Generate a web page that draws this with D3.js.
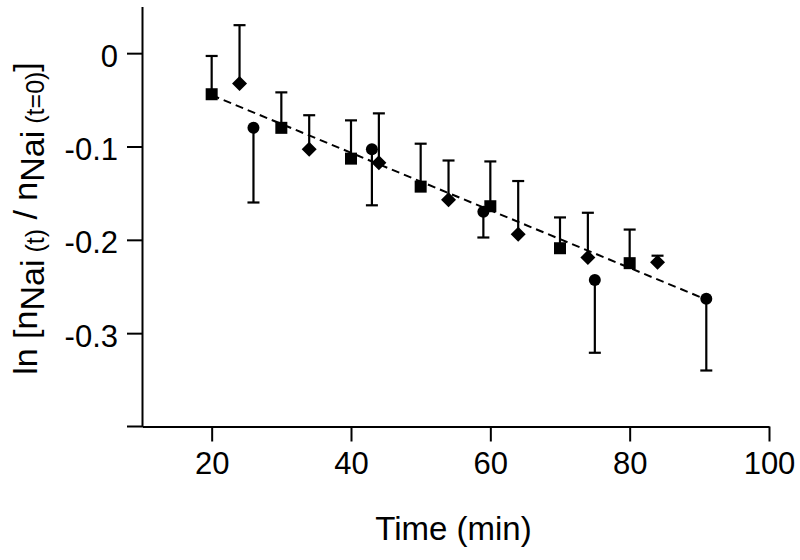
<!DOCTYPE html>
<html>
<head>
<meta charset="utf-8">
<script src="https://cdn.jsdelivr.net/npm/d3@7"></script>
<style>
  html, body { margin: 0; padding: 0; background: #fff; }
  svg { display: block; font-family: "Liberation Sans", Arial, sans-serif; }
</style>
</head>
<body>
<svg id="chart" width="800" height="560"></svg>
<script>
// ---- data ----
const squareX = [20, 30, 40, 50, 60, 70, 80];
const squareY = [-0.044, -0.080, -0.113, -0.143, -0.164, -0.209, -0.225];
const squareErrUp = [0.041, 0.038, 0.041, 0.046, 0.048, 0.033, 0.036];

const diamondX = [24, 34, 44, 54, 64, 74, 84];
const diamondY = [-0.0325, -0.103, -0.1175, -0.157, -0.194, -0.219, -0.224];
const diamondErrUp = [0.0625, 0.0365, 0.053, 0.042, 0.057, 0.048, 0.007];

const circleX = [26, 43, 59, 75, 91];
const circleY = [-0.080, -0.103, -0.170, -0.243, -0.263];
const circleErrDown = [0.080, 0.060, 0.0275, 0.078, 0.077];

const fitX = [20, 91];
const fitY = [-0.045, -0.264];

const xTicks = [20, 40, 60, 80, 100];
const yTicks = [0, -0.1, -0.2, -0.3];
const xLabel = "Time (min)";

// ---- layout ----
const svg = d3.select("#chart");
const x = d3.scaleLinear().domain([10, 100]).range([142, 769]);
const y = d3.scaleLinear().domain([-0.4, 0.05]).range([426.5, 6.5]);

const black = "#000";

// x axis
const gx = svg.append("g").attr("transform", `translate(0,${y(-0.4)})`)
  .call(d3.axisBottom(x).tickValues(xTicks).tickSize(15).tickSizeOuter(0).tickPadding(10)
    .tickFormat(d3.format("d")));
gx.select(".domain").attr("stroke-width", 2);
gx.selectAll(".tick line").attr("stroke-width", 2);
gx.selectAll(".tick text").attr("font-size", 31).attr("font-family", "Liberation Sans, Arial, sans-serif").attr("fill", black);
// extension of x axis line to the left of the y axis
svg.append("line").attr("x1", x(10) - 15).attr("x2", x(10))
  .attr("y1", y(-0.4)).attr("y2", y(-0.4)).attr("stroke", black).attr("stroke-width", 2);

// y axis
const gy = svg.append("g").attr("transform", `translate(${x(10)},0)`)
  .call(d3.axisLeft(y).tickValues(yTicks).tickSize(15).tickSizeOuter(0).tickPadding(9)
    .tickFormat(d => d === 0 ? "0" : d.toFixed(1)));
gy.select(".domain").attr("stroke-width", 2);
gy.selectAll(".tick line").attr("stroke-width", 2);
gy.selectAll(".tick text").attr("font-size", 31).attr("font-family", "Liberation Sans, Arial, sans-serif")
  .attr("fill", black).attr("dy", "0.42em");

// x label
svg.append("text").attr("x", (x(10) + x(100)) / 2 - 2).attr("y", 540)
  .attr("text-anchor", "middle").attr("font-size", 33).attr("fill", black).text(xLabel);

// y label (rotated, with subscripts)
const yl = svg.append("text")
  .attr("transform", `translate(37,${(y(0.05) + y(-0.4)) / 2 + 2}) rotate(-90)`)
  .attr("text-anchor", "middle").attr("font-size", 34).attr("fill", black);
yl.append("tspan").text("ln [n");
yl.append("tspan").attr("dy", 7).text("Nai");
yl.append("tspan").attr("font-size", 25).text(" (t)");
yl.append("tspan").attr("dy", -7).text(" / n");
yl.append("tspan").attr("dy", 7).text("Nai");
yl.append("tspan").attr("font-size", 25).text(" (t=0)");
yl.append("tspan").attr("dy", -7).text("]");

// ---- error bars ----
const capW = 12;
function errBars(xs, ys, errs, dir) {
  const g = svg.append("g").attr("stroke", black).attr("stroke-width", 2.2);
  xs.forEach((xv, i) => {
    const yEnd = ys[i] + dir * errs[i];
    g.append("line").attr("x1", x(xv)).attr("x2", x(xv)).attr("y1", y(ys[i])).attr("y2", y(yEnd));
    g.append("line").attr("x1", x(xv) - capW / 2).attr("x2", x(xv) + capW / 2).attr("y1", y(yEnd)).attr("y2", y(yEnd));
  });
}
errBars(squareX, squareY, squareErrUp, 1);
errBars(diamondX, diamondY, diamondErrUp, 1);
errBars(circleX, circleY, circleErrDown, -1);

// ---- fit line ----
svg.append("path")
  .datum(fitX.map((v, i) => [v, fitY[i]]))
  .attr("d", d3.line().x(d => x(d[0])).y(d => y(d[1])))
  .attr("fill", "none").attr("stroke", black).attr("stroke-width", 2).attr("stroke-dasharray", "8,5");

// ---- markers ----
const sq = 12;
svg.append("g").selectAll("rect").data(squareX.map((v, i) => [v, squareY[i]])).join("rect")
  .attr("x", d => x(d[0]) - sq / 2).attr("y", d => y(d[1]) - sq / 2)
  .attr("width", sq).attr("height", sq).attr("fill", black);

const dm = 7.5;
svg.append("g").selectAll("path").data(diamondX.map((v, i) => [v, diamondY[i]])).join("path")
  .attr("d", d => {
    const cx = x(d[0]), cy = y(d[1]);
    return `M${cx},${cy - dm}L${cx + dm},${cy}L${cx},${cy + dm}L${cx - dm},${cy}Z`;
  })
  .attr("fill", black);

svg.append("g").selectAll("circle").data(circleX.map((v, i) => [v, circleY[i]])).join("circle")
  .attr("cx", d => x(d[0])).attr("cy", d => y(d[1])).attr("r", 6).attr("fill", black);
</script>
</body>
</html>
